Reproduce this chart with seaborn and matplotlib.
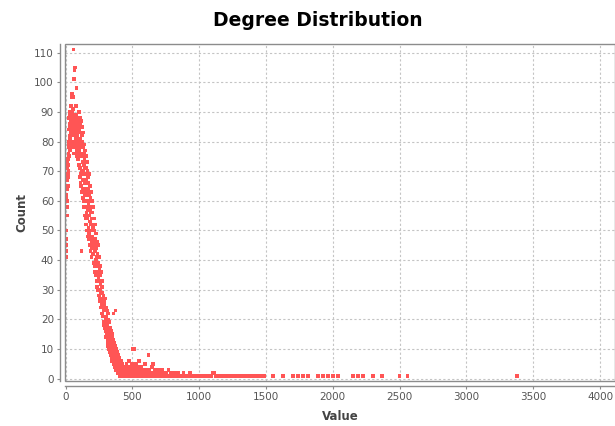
import numpy as np
import pandas as pd
import matplotlib
matplotlib.use("Agg")
import matplotlib.pyplot as plt
from matplotlib.patches import Rectangle
import seaborn as sns

# Degree distribution values (degree, number of nodes)
# low degrees, near the y axis
deg_low = [2, 3, 4, 5, 6, 7, 8, 9, 10, 11, 12, 13, 14, 15, 16, 17, 18, 19, 20, 21, 22, 23, 24, 25]
cnt_low = [41, 47, 45, 43, 62, 50, 61, 55, 60, 64, 58, 71, 67, 73, 69, 65, 74, 68, 72, 78, 70, 76, 80, 75]

# peak
deg_peak = [26, 27, 28, 29, 30, 31, 32, 33, 34, 35, 36, 37, 38, 39, 40, 41, 42, 43, 44, 45,
            46, 47, 48, 49, 50, 51, 52, 53, 54, 55, 56, 57, 58, 59, 60, 61, 62, 63, 64, 65,
            66, 67, 68, 69, 70, 71, 72, 73, 74, 75, 76, 77, 78, 79, 80, 81, 82, 83, 84, 85,
            86, 87, 88, 89, 90, 91, 92, 93, 94, 95, 96, 97, 98, 99, 100]
cnt_peak = [84, 79, 88, 82, 86, 90, 77, 85, 89, 81, 87, 79, 84, 92, 86, 80, 88, 83, 95, 78,
            86, 90, 82, 96, 85, 79, 88, 84, 91, 80, 86, 83, 95, 78, 111, 87, 82, 89, 76, 101,
            84, 80, 104, 86, 83, 105, 79, 88, 85, 81, 92, 78, 86, 83, 89, 77, 98, 84, 80, 87,
            75, 82, 85, 79, 88, 76, 83, 80, 86, 74, 81, 78, 84, 72, 80]

# descent
deg_mid = [101, 102, 103, 104, 105, 106, 107, 108, 109, 110, 111, 112, 113, 114, 115, 116, 117, 118, 119, 120,
           121, 122, 123, 124, 125, 126, 127, 128, 129, 130, 131, 132, 133, 134, 135, 136, 137, 138, 139, 140,
           141, 142, 143, 144, 145, 146, 147, 148, 149, 150, 151, 152, 153, 154, 155, 156, 157, 158, 159, 160,
           161, 162, 163, 164, 165, 166, 167, 168, 169, 170, 171, 172, 173, 174, 175, 176, 177, 178, 179, 180,
           181, 182, 183, 184, 185, 186, 187, 188, 189, 190, 191, 192, 193, 194, 195, 196, 197, 198, 199, 200]
cnt_mid = [85, 72, 90, 77, 84, 68, 80, 88, 71, 81, 66, 86, 75, 83, 69, 79, 87, 65, 43, 78,
           70, 82, 63, 76, 85, 67, 73, 80, 61, 75, 78, 64, 70, 83, 60, 72, 76, 58, 69, 79,
           62, 74, 67, 55, 71, 77, 60, 66, 73, 54, 69, 58, 75, 63, 52, 67, 71, 56, 64, 73,
           50, 66, 60, 70, 54, 62, 48, 68, 57, 64, 51, 66, 59, 47, 63, 55, 69, 49, 58, 62,
           45, 60, 53, 65, 48, 57, 43, 61, 52, 56, 47, 63, 50, 41, 58, 46, 54, 60, 44, 52]

deg_fall = [202, 203, 205, 206, 208, 209, 211, 212, 214, 215, 217, 218, 220, 221, 223, 224, 226, 227, 229, 230,
            232, 233, 235, 236, 238, 239, 241, 242, 244, 245, 247, 248, 250, 251, 253, 254, 256, 257, 259, 260,
            262, 263, 265, 266, 268, 269, 271, 272, 274, 275, 277, 278, 280, 281, 283, 284, 286, 287, 289, 290,
            292, 293, 295, 296, 298, 299]
cnt_fall = [48, 56, 42, 51, 45, 58, 39, 50, 46, 54, 38, 47, 43, 52, 36, 45, 40, 49, 35, 44,
            41, 33, 46, 38, 31, 42, 36, 45, 30, 39, 34, 28, 41, 33, 37, 27, 35, 30, 38, 26,
            32, 29, 36, 24, 31, 27, 33, 22, 29, 25, 31, 21, 27, 24, 19, 28, 23, 26, 18, 25,
            21, 27, 17, 23, 20, 16]

deg_knee = [301, 302, 304, 305, 307, 308, 310, 311, 313, 314, 316, 317, 319, 320, 322, 323, 325, 326, 328, 329,
            331, 332, 334, 335, 337, 338, 340, 341, 343, 344, 346, 347, 349, 350, 352, 353, 355, 356, 358, 359,
            361, 362, 364, 365, 367, 368, 370, 371, 373, 374, 376, 377, 379, 380, 382, 383, 385, 386, 388, 389,
            391, 392, 394, 395, 397, 398, 400, 401, 403, 404, 406, 407, 409, 410, 412, 413, 415, 416, 418, 419,
            421, 422, 424, 425, 427, 428, 430, 431, 433, 434, 436, 437, 439, 440, 442, 443, 445, 446, 448, 449]
cnt_knee = [24, 17, 21, 14, 19, 23, 15, 20, 12, 18, 22, 13, 17, 11, 20, 14, 16, 10, 19, 12,
            15, 9, 17, 11, 14, 8, 16, 10, 13, 7, 15, 9, 12, 6, 14, 8, 11, 13, 7, 22,
            10, 5, 12, 8, 9, 4, 11, 7, 23, 6, 9, 3, 10, 5, 8, 4, 7, 9, 3, 6,
            8, 2, 5, 7, 3, 6, 4, 2, 7, 5, 3, 6, 1, 4, 5, 2, 3, 6, 1, 4,
            2, 5, 1, 3, 4, 1, 2, 3, 1, 4, 2, 1, 3, 1, 2, 4, 1, 2, 3, 1]

# long flat part
deg_flat = [451, 454, 457, 460, 463, 466, 469, 472, 475, 478, 481, 484, 487, 490, 493, 496, 499, 502, 505, 508,
            511, 514, 517, 520, 523, 526, 529, 532, 535, 538, 541, 544, 547, 550, 553, 556, 559, 562, 565, 568,
            571, 574, 577, 580, 583, 586, 589, 592, 595, 598, 601, 605, 609, 613, 617, 621, 625, 629, 633, 637,
            641, 645, 649, 653, 657, 661, 665, 669, 673, 677, 681, 685, 689, 693, 697, 701, 706, 711, 716, 721,
            726, 731, 736, 741, 746, 751, 756, 761, 766, 771, 776, 781, 786, 791, 796]
cnt_flat = [4, 2, 5, 1, 3, 1, 4, 2, 6, 1, 3, 2, 4, 1, 2, 5, 1, 10, 3, 2,
            4, 1, 10, 3, 2, 5, 1, 2, 4, 1, 3, 1, 2, 6, 1, 3, 2, 1, 4, 1,
            2, 3, 1, 2, 1, 3, 1, 2, 5, 1, 2, 1, 3, 1, 2, 8, 1, 3, 1, 2,
            1, 4, 1, 2, 5, 1, 1, 3, 1, 2, 1, 1, 2, 1, 3, 1, 1, 2, 1, 1,
            3, 1, 2, 1, 1, 2, 1, 1, 1, 3, 1, 1, 2, 1, 1]

deg_tail = [805, 812, 819, 826, 833, 840, 847, 854, 861, 868, 875, 882, 889, 896, 903, 910, 917, 924, 931, 938,
            945, 952, 959, 966, 973, 980, 987, 994, 1001, 1010, 1019, 1028, 1037, 1046, 1055, 1064, 1073, 1082, 1091, 1105,
            1112, 1124, 1136, 1148, 1160, 1172, 1184, 1196, 1208, 1220, 1232, 1244, 1256, 1268, 1280, 1292, 1304, 1316, 1330, 1345,
            1360, 1375, 1390, 1405, 1420, 1435, 1450, 1470, 1490, 1552, 1627, 1700, 1740, 1777, 1813, 1888, 1925, 1963, 2000, 2037,
            2149, 2187, 2224, 2299, 2366, 2500, 2560, 3381]
cnt_tail = [1, 2, 1, 1, 1, 2, 1, 1, 1, 1, 1, 2, 1, 1, 1, 1, 1, 1, 2, 1,
            1, 1, 1, 1, 1, 1, 1, 1, 1, 1, 1, 1, 1, 1, 1, 1, 1, 1, 1, 2,
            2, 1, 1, 1, 1, 1, 1, 1, 1, 1, 1, 1, 1, 1, 1, 1, 1, 1, 1, 1,
            1, 1, 1, 1, 1, 1, 1, 1, 1, 1, 1, 1, 1, 1, 1, 1, 1, 1, 1, 1,
            1, 1, 1, 1, 1, 1, 1, 1]

x_ticks = [0, 500, 1000, 1500, 2000, 2500, 3000, 3500, 4000]
y_ticks = [0, 10, 20, 30, 40, 50, 60, 70, 80, 90, 100, 110]

df = pd.DataFrame({
    "Value": deg_low + deg_peak + deg_mid + deg_fall + deg_knee + deg_flat + deg_tail,
    "Count": cnt_low + cnt_peak + cnt_mid + cnt_fall + cnt_knee + cnt_flat + cnt_tail,
})

sns.set_style("white")
plt.rcParams["font.family"] = ["DejaVu Sans"]

fig = plt.figure(figsize=(6.15, 4.26), dpi=100)
ax = fig.add_axes([65 / 615, 1 - 381 / 426, 1 - 65 / 615, 337 / 426])

sns.scatterplot(data=df, x="Value", y="Count", ax=ax, marker="s", s=7,
                color="#FF5555", linewidth=0, edgecolor="none", zorder=3)

ax.set_xlim(-4, 4112)
ax.set_ylim(-0.8, 112.9)
ax.set_xticks(x_ticks)
ax.set_yticks(y_ticks)

# dashed light grid like the original
ax.grid(True, color="#c4c4c4", linestyle=(0, (2, 2)), linewidth=0.8)
ax.set_axisbelow(True)

# plot outline
ax.add_patch(Rectangle((0, 0), 1, 1, transform=ax.transAxes, fill=False,
                       edgecolor="#8c8c8c", linewidth=1.0, clip_on=False, zorder=4))

# axis lines are set a few pixels away from the plot box
for side in ["left", "bottom"]:
    ax.spines[side].set_position(("outward", 3.5))
    ax.spines[side].set_color("#8c8c8c")
    ax.spines[side].set_linewidth(1.0)
for side in ["top", "right"]:
    ax.spines[side].set_visible(False)

ax.tick_params(axis="both", which="both", direction="out", length=2.5, width=0.8,
               color="#8c8c8c", labelcolor="#555555", labelsize=7.5,
               left=True, bottom=True, pad=2)

ax.set_xlabel("Value", fontsize=8.5, fontweight="bold", color="#444444", labelpad=6)
ax.set_ylabel("Count", fontsize=8.5, fontweight="bold", color="#444444", labelpad=4)

fig.text(0.516, 0.953, "Degree Distribution", ha="center", va="center",
         fontsize=13.5, fontweight="bold", color="black")

fig.savefig("out.png", dpi=100)
